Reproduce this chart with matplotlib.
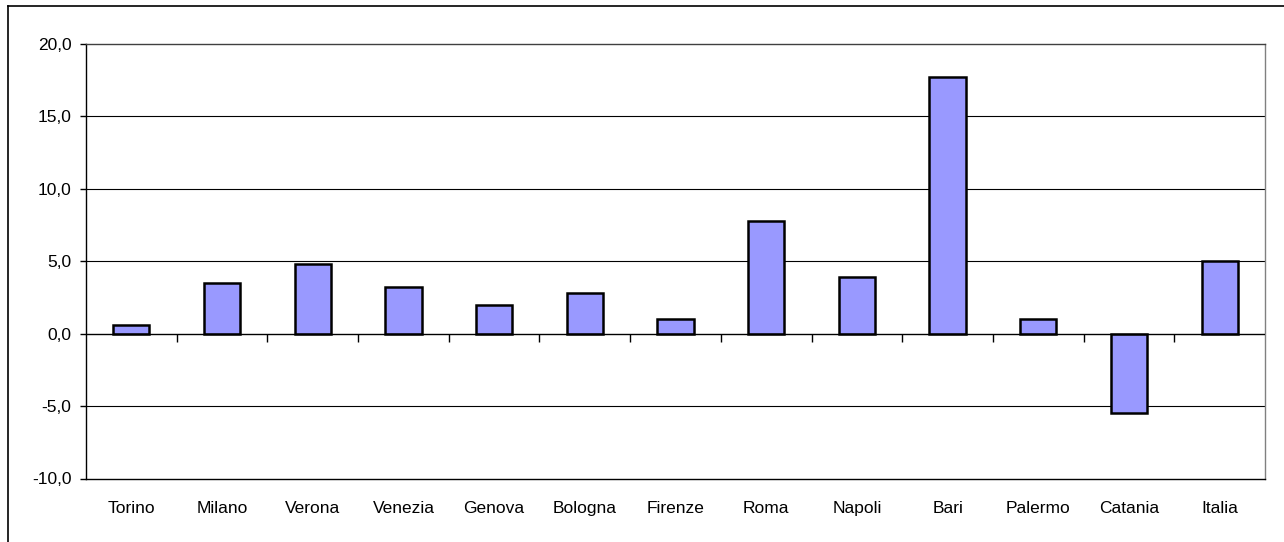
import numpy as np
import matplotlib
matplotlib.use('Agg')
import matplotlib.pyplot as plt
from matplotlib.lines import Line2D
from matplotlib.ticker import FuncFormatter

cities = ['Torino', 'Milano', 'Verona', 'Venezia', 'Genova', 'Bologna', 'Firenze',
          'Roma', 'Napoli', 'Bari', 'Palermo', 'Catania', 'Italia']
values = [0.6, 3.5, 4.8, 3.2, 2.0, 2.8, 1.0, 7.8, 3.9, 17.7, 1.0, -5.5, 5.0]
y_ticks = [-10, -5, 0, 5, 10, 15, 20]

plt.rcParams['font.family'] = ['Liberation Sans', 'DejaVu Sans']

fig = plt.figure(figsize=(12.84, 5.42), dpi=100)
ax = fig.add_axes([86 / 1284, 1 - 478.5 / 542, (1265 - 86) / 1284, (478.5 - 44) / 542])

x = np.arange(len(cities))
ax.bar(x, values, width=0.4, color='#9999ff', edgecolor='black', linewidth=1.8, zorder=3)

# gridlines
for yv in y_ticks[1:-1]:
    if yv != 0:
        ax.axhline(yv, color='black', lw=0.8, zorder=1)
ax.axhline(0, color='black', lw=1.0, zorder=4)
# small tick marks on the zero line between categories
ax.plot(x[:-1] + 0.5, np.zeros(len(x) - 1), ls='none', marker=3, ms=6,
        mew=1.0, color='black', zorder=4)

ax.set_xlim(-0.5, len(cities) - 0.5)
ax.set_ylim(-10, 20)
ax.set_yticks(y_ticks)
ax.yaxis.set_major_formatter(FuncFormatter(lambda v, p: f'{v:.1f}'.replace('.', ',')))
ax.set_xticks(x)
ax.set_xticklabels(cities)
ax.tick_params(axis='x', length=0, pad=16.5, labelsize=12.5)
ax.tick_params(axis='y', length=4.5, width=1.0, pad=6, labelsize=12.5, direction='out')

ax.spines['left'].set_color('black')
ax.spines['bottom'].set_color('black')
ax.spines['top'].set_color('#404040')
ax.spines['right'].set_color('#808080')
for s in ax.spines.values():
    s.set_linewidth(1.0)

# outer chart frame (cut at right and bottom)
fig.add_artist(Line2D([7.5 / 1284, 7.5 / 1284], [0, 1 - 6 / 542], color='black', lw=1.2))
fig.add_artist(Line2D([7.5 / 1284, 1], [1 - 6 / 542, 1 - 6 / 542], color='black', lw=1.2))

fig.savefig('out.png', dpi=100)
